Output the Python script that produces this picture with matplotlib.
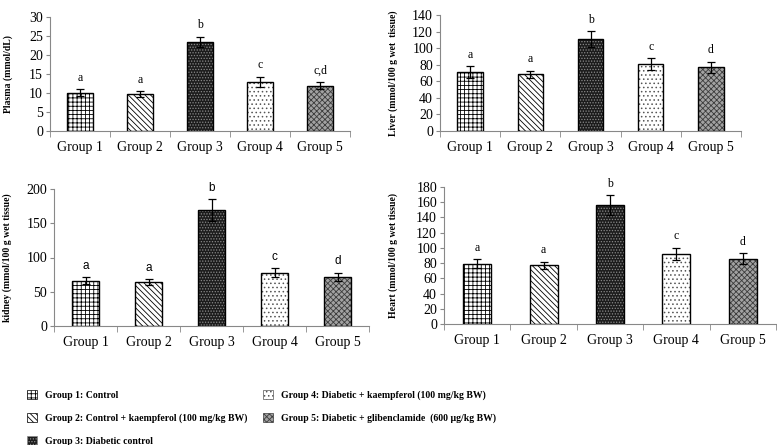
import matplotlib
matplotlib.use("Agg")
import matplotlib.pyplot as plt
from matplotlib.patches import Patch
import numpy as np

# data
groups = ["Group 1", "Group 2", "Group 3", "Group 4", "Group 5"]

plasma = [10.1, 9.7, 23.5, 12.9, 11.9]
plasma_err = [0.9, 0.8, 1.3, 1.4, 0.9]
plasma_sig = ["a", "a", "b", "c", "c,d"]

liver = [71, 68.5, 111, 80.5, 77]
liver_err = [7, 4.5, 9.5, 7, 6.5]
liver_sig = ["a", "a", "b", "c", "d"]

kidney = [66, 64, 169, 78, 72]
kidney_err = [5, 4, 16, 6, 6]
kidney_sig = ["a", "a", "b", "c", "d"]

heart = [79, 77, 156, 92, 86]
heart_err = [6, 4.5, 13, 8.5, 7]
heart_sig = ["a", "a", "b", "c", "d"]

legend_labels = [
    "Group 1: Control",
    "Group 2: Control + kaempferol (100 mg/kg BW)",
    "Group 3: Diabetic control",
    "Group 4: Diabetic + kaempferol (100 mg/kg BW)",
    "Group 5: Diabetic + glibenclamide  (600 \u00b5g/kg BW)",
]

# bar styles: face, hatch, hatch colour
styles = [
    ("white", "++++", "black"),
    ("white", "\\\\\\\\\\\\", "black"),
    ("#1c1c1c", "......", "#8a8a8a"),
    ("white", "....", "#555555"),
    ("#a2a2a2", "xxxxxx", "#3c3c3c"),
]

plt.rcParams["font.family"] = "Liberation Serif"
plt.rcParams["hatch.linewidth"] = 0.6

W, H = 777, 445
fig = plt.figure(figsize=(W / 100, H / 100), dpi=100)


def px_axes(x0, x1, ytop, ybot):
    return fig.add_axes([x0 / W, 1 - ybot / H, (x1 - x0) / W, (ybot - ytop) / H])


def draw_bars(ax, vals, errs, sig, ymax, ystep, ylabel, label_x, sig_font="Liberation Serif"):
    x = np.arange(len(groups))
    for i, (fc, hatch, hc) in enumerate(styles):
        ax.bar(x[i], vals[i], width=0.42, color=fc, hatch=hatch, edgecolor=hc, linewidth=0, zorder=2)
        ax.bar(x[i], vals[i], width=0.42, fill=False, edgecolor="black", linewidth=1.0, zorder=3)
    ax.errorbar(x, vals, yerr=errs, fmt="none", ecolor="black", elinewidth=0.9, capsize=3, capthick=0.9, zorder=4)
    for i in range(len(groups)):
        ax.annotate(sig[i], (x[i], vals[i] + errs[i]), xytext=(0, 4), textcoords="offset points",
                    ha="center", va="bottom", fontsize=8.5, family=sig_font)
    ax.set_xlim(-0.5, len(groups) - 0.5)
    ax.set_ylim(0, ymax)
    ax.set_yticks(np.arange(0, ymax + ystep / 2, ystep))
    ax.set_xticks(x)
    ax.set_xticklabels(groups, fontsize=10)
    ax.set_xticks(np.arange(-0.5, len(groups), 1), minor=True)
    ax.tick_params(axis="x", which="major", length=0, pad=7.5)
    ax.tick_params(axis="x", which="minor", length=4, color="#888888", direction="out")
    ax.tick_params(axis="y", length=3, color="#888888", labelsize=10, pad=2)
    for s in ("top", "right"):
        ax.spines[s].set_visible(False)
    for s in ("left", "bottom"):
        ax.spines[s].set_color("#888888")
        ax.spines[s].set_linewidth(0.8)
    ax.set_ylabel(ylabel, fontsize=7, fontweight="bold")
    # the label's right edge sits at label_x (pixels)
    pos = ax.get_position()
    ax.yaxis.set_label_coords(label_x / W, pos.y0 + pos.height / 2, transform=fig.transFigure)


ax1 = px_axes(50, 350, 17, 131)
draw_bars(ax1, plasma, plasma_err, plasma_sig, 30, 5, "Plasma (mmol/dL)", 13)

ax2 = px_axes(440, 741, 15, 131)
draw_bars(ax2, liver, liver_err, liver_sig, 140, 20, "Liver (mmol/100 g wet  tissue)", 398)

ax3 = px_axes(54, 369, 189, 326)
draw_bars(ax3, kidney, kidney_err, kidney_sig, 200, 50, "kidney (mmol/100 g wet tissue)", 12,
          sig_font="Liberation Sans")

ax4 = px_axes(444, 776, 187, 324)
draw_bars(ax4, heart, heart_err, heart_sig, 180, 20, "Heart (mmol/100 g wet tissue)", 398)

# legend in two columns
handles = [Patch(facecolor=fc, hatch=h, edgecolor=hc, linewidth=0.5) for fc, h, hc in styles]
leg_font = {"family": "Liberation Serif", "weight": "bold", "size": 7}
leg_kw = dict(loc="upper left", frameon=False, prop=leg_font, handlelength=1.0, handleheight=1.0,
              labelspacing=1.35, handletextpad=0.9, borderaxespad=0, borderpad=0)
fig.legend(handles[:3], legend_labels[:3], bbox_to_anchor=(27 / W, 1 - 390 / H), **leg_kw)
fig.legend(handles[3:], legend_labels[3:], bbox_to_anchor=(263 / W, 1 - 390 / H), **leg_kw)

fig.savefig("out.png", dpi=100)
